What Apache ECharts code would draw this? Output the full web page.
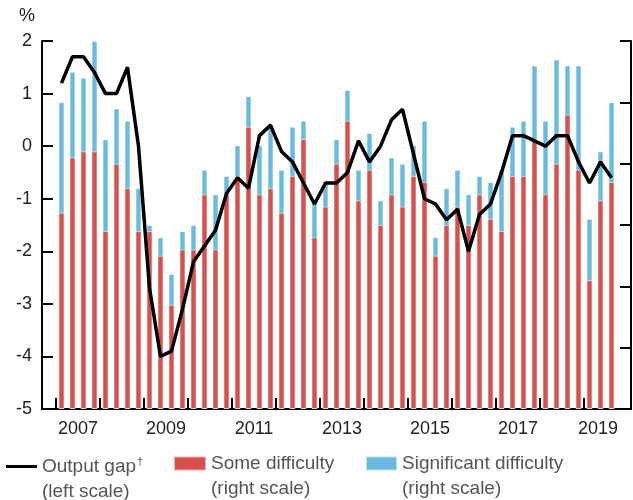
<!DOCTYPE html>
<html>
<head>
<meta charset="utf-8">
<script src="https://cdn.jsdelivr.net/npm/echarts@6/dist/echarts.min.js"></script>
<style>
  html, body { margin: 0; padding: 0; background: #fff; }
  #chart { width: 633px; height: 500px; }
</style>
</head>
<body>
<div id="chart"></div>
<script>
// quarterly, 2007 Q1 .. 2019 Q3
const quarters = []
for (let y = 2007; y <= 2019; y++) {
  for (let q = 1; q <= 4; q++) {
    if (y === 2019 && q > 3) break
    quarters.push(y + 'Q' + q)
  }
}

// output gap, % (left scale)
const outputGap = [
  1.2, 1.7, 1.7, 1.4, 1.0, 1.0, 1.5, 0.0, -2.7, -4.0, -3.9, -3.1, -2.2,
  -1.9, -1.6, -0.9, -0.6, -0.8, 0.2, 0.4, -0.1, -0.3, -0.7, -1.1, -0.7, -0.7,
  -0.5, 0.1, -0.3, 0.0, 0.5, 0.7, -0.15, -1.0, -1.1, -1.4, -1.2, -2.0, -1.3,
  -1.1, -0.5, 0.2, 0.2, 0.1, 0.0, 0.2, 0.2, -0.3, -0.7, -0.3, -0.6
]

// right scale
const someDifficulty = [
  32, 41, 42, 42, 29, 40, 36, 29, 29, 25, 17, 26, 26,
  35, 26, 35, 38, 46, 35, 36, 32, 38, 44, 28, 33, 40,
  47, 34, 39, 30, 35, 33, 38, 37, 25, 30, 33, 30, 35,
  31, 29, 38, 38, 44, 35, 40, 48, 39, 21, 34, 37
]
const significantDifficulty = [
  18, 14, 12, 18, 15, 9, 11, 7, 1, 3, 5, 3, 4,
  4, 9, 3, 5, 5, 8, 10, 7, 8, 3, 6, 4, 4,
  5, 5, 6, 4, 6, 7, 5, 10, 3, 6, 6, 5, 3,
  6, 10, 8, 9, 12, 12, 17, 8, 17, 10, 8, 13
]

const yearTicks = [2007, 2008, 2009, 2010, 2011, 2012, 2013, 2014, 2015, 2016, 2017, 2018, 2019]
const yearLabels = [2007.5, 2009.5, 2011.5, 2013.5, 2015.5, 2017.5, 2019.32]

// quarter label -> position on the year axis (bar centre)
const xPos = quarters.map(s => parseInt(s) + (parseInt(s.split('Q')[1]) - 0.5) / 4)
const pair = arr => arr.map((v, i) => [xPos[i], v])
// stack by hand: blue bar reaches some + significant, red drawn over it
const totalDifficulty = someDifficulty.map((v, i) => v + significantDifficulty[i])

const font = 'Liberation Sans, Arial, Helvetica, sans-serif'
const RED = '#d6504c'
const BLUE = '#6bbbe0'

const legendText = {
  fontFamily: font,
  padding: [25, 0, 0, 0],
  rich: {
    a: { fontFamily: font, fontSize: 19, lineHeight: 25, color: '#555' },
    s: { fontFamily: font, fontSize: 11, lineHeight: 25, color: '#555', verticalAlign: 'top', padding: [2, 0, 0, 1] }
  }
}

const chart = echarts.init(document.getElementById('chart'))

chart.setOption({
  backgroundColor: '#fff',
  animation: false,
  grid: { left: 42, right: 2, top: 41, bottom: 91 },
  xAxis: {
    type: 'value',
    min: 2006.682,
    max: 2020.068,
    splitLine: { show: false },
    axisLine: { show: true, onZero: false, lineStyle: { color: '#000', width: 2 } },
    axisTick: { show: true, inside: true, length: 11, customValues: yearTicks, lineStyle: { color: '#000', width: 2 } },
    axisLabel: {
      customValues: yearLabels,
      formatter: v => String(Math.floor(v)),
      fontFamily: font, fontSize: 18, color: '#222', margin: 11
    }
  },
  yAxis: [
    {
      type: 'value',
      min: -5, max: 2, interval: 1,
      name: '%',
      nameLocation: 'end',
      nameGap: 16,
      nameTextStyle: { fontFamily: font, fontSize: 18, color: '#222', align: 'right', padding: [0, 7, 0, 0] },
      splitLine: { show: false },
      axisLine: { show: true, onZero: false, lineStyle: { color: '#000', width: 2 } },
      axisTick: { show: true, inside: true, length: 11, lineStyle: { color: '#000', width: 2 } },
      axisLabel: { fontFamily: font, fontSize: 18, color: '#222', margin: 10 }
    },
    {
      type: 'value',
      min: 0, max: 60, interval: 10,
      position: 'right',
      splitLine: { show: false },
      axisLine: { show: true, onZero: false, lineStyle: { color: '#000', width: 2 } },
      axisTick: { show: true, inside: true, length: 11, lineStyle: { color: '#000', width: 2 } },
      axisLabel: { show: false }
    }
  ],
  legend: [
    {
      data: ['Output gap'],
      left: 6, top: 454,
      padding: 0,
      icon: 'rect', itemWidth: 31, itemHeight: 3,
      formatter: () => '{a|Output gap}{s|†}\n{a|(left scale)}',
      textStyle: legendText
    },
    {
      data: ['Some difficulty'],
      left: 173, top: 454,
      padding: 0,
      icon: 'rect', itemWidth: 32, itemHeight: 14,
      formatter: () => '{a|Some difficulty}\n{a|(right scale)}',
      textStyle: legendText
    },
    {
      data: ['Significant difficulty'],
      left: 365, top: 454,
      padding: 0,
      icon: 'rect', itemWidth: 31, itemHeight: 14,
      formatter: () => '{a|Significant difficulty}\n{a|(right scale)}',
      textStyle: legendText
    }
  ],
  series: [
    {
      name: 'Significant difficulty',
      type: 'bar',
      yAxisIndex: 1,
      barWidth: 6,
      barGap: '-100%',
      data: pair(totalDifficulty),
      itemStyle: { color: BLUE, borderColor: 'rgba(255,255,255,0.55)', borderWidth: 1 }
    },
    {
      name: 'Some difficulty',
      type: 'bar',
      yAxisIndex: 1,
      barWidth: 6,
      barGap: '-100%',
      data: pair(someDifficulty),
      itemStyle: { color: RED, borderColor: 'rgba(255,255,255,0.55)', borderWidth: 1 }
    },
    {
      name: 'Output gap',
      type: 'line',
      yAxisIndex: 0,
      symbol: 'none',
      z: 5,
      data: pair(outputGap),
      lineStyle: { color: '#000', width: 3.5 },
      itemStyle: { color: '#000' }
    }
  ]
})
</script>
</body>
</html>
